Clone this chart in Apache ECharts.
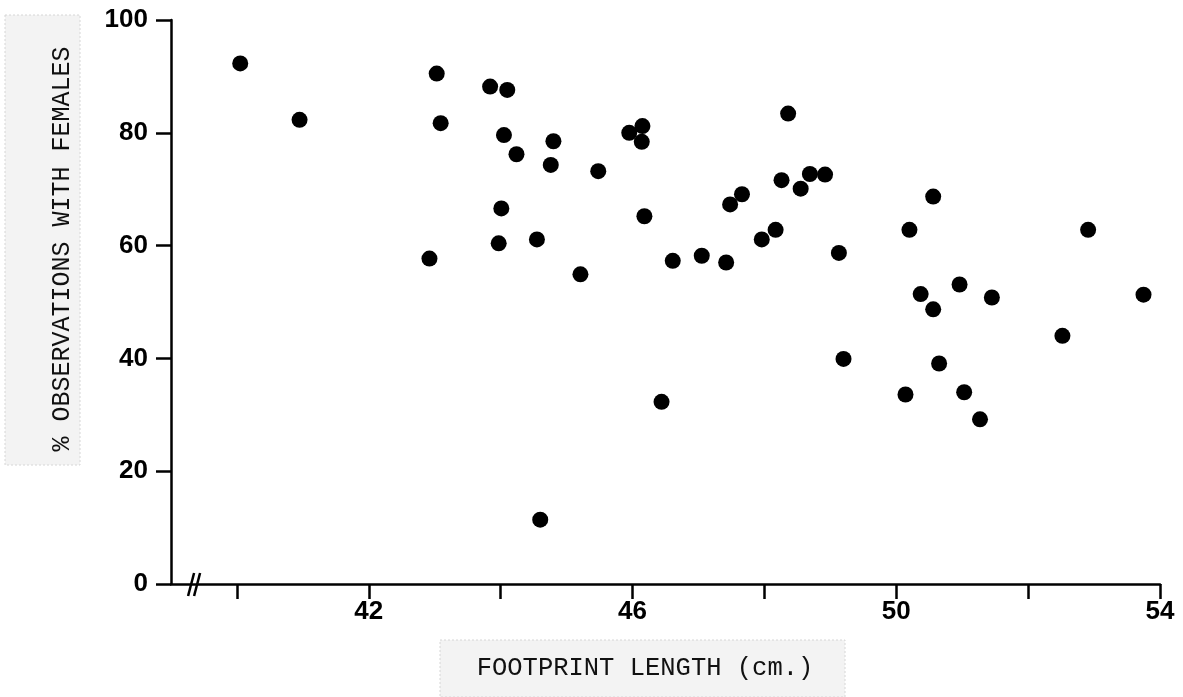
<!DOCTYPE html>
<html><head><meta charset="utf-8">
<script src="https://cdn.jsdelivr.net/npm/echarts@6/dist/echarts.min.js"></script>
<style>html,body{margin:0;padding:0;background:#fff}#c{width:1183px;height:697px}</style>
</head><body><div id="c"></div>
<script>
// Data
const footprintLength = [40.05, 40.95, 43.03, 43.84, 44.10, 43.09, 44.05, 44.24, 44.01, 43.97,
  44.55, 42.92, 44.80, 44.76, 45.48, 45.95, 46.15, 46.14, 46.18, 45.21,
  46.61, 47.05, 47.42, 47.48, 47.66, 47.96, 48.17, 48.26, 48.36, 48.55,
  48.69, 48.92, 49.13, 50.56, 50.20, 52.91, 50.96, 50.37, 50.56, 51.45,
  53.75, 52.52, 44.60, 46.44, 49.20, 50.65, 50.14, 51.03, 51.27];
const pctWithFemales = [92.3, 82.3, 90.5, 88.2, 87.6, 81.7, 79.6, 76.2, 66.6, 60.4,
  61.1, 57.7, 78.5, 74.3, 73.2, 80.0, 81.2, 78.4, 65.2, 54.9,
  57.3, 58.2, 57.0, 67.3, 69.1, 61.1, 62.8, 71.6, 83.4, 70.1,
  72.7, 72.6, 58.7, 68.7, 62.8, 62.8, 53.1, 51.4, 48.7, 50.8,
  51.3, 44.0, 11.4, 32.3, 39.9, 39.1, 33.6, 34.0, 29.2];
const xTickValues = [40, 42, 44, 46, 48, 50, 52, 54];
const xLabelValues = [42, 46, 50, 54];
const yTickValues = [0, 20, 40, 60, 80, 100];
const xTitle = 'FOOTPRINT LENGTH (cm.)';
const yTitle = '% OBSERVATIONS WITH FEMALES';

const points = footprintLength.map((x, i) => [x, pctWithFemales[i]]);
const chart = echarts.init(document.getElementById('c'), null, {renderer: 'canvas'});
const axisColor = '#000';
const tickFont = {color: '#000', fontFamily: 'Liberation Sans, Arial, sans-serif', fontWeight: 'bold', fontSize: 26};

chart.setOption({
  animation: false,
  backgroundColor: '#fff',
  grid: {left: 171, right: 23, top: 20, bottom: 113},
  xAxis: {
    type: 'value', min: 39, max: 54,
    axisLine: {show: true, onZero: false, lineStyle: {color: axisColor, width: 2.5}},
    axisTick: {show: true, customValues: xTickValues, length: 15, lineStyle: {color: axisColor, width: 2.5}},
    axisLabel: Object.assign({show: true, customValues: xLabelValues, margin: 15}, tickFont),
    splitLine: {show: false}
  },
  yAxis: {
    type: 'value', min: 0, max: 100, interval: 20,
    axisLine: {show: true, onZero: false, lineStyle: {color: axisColor, width: 2.5}},
    axisTick: {show: true, customValues: yTickValues, length: 15, lineStyle: {color: axisColor, width: 2.5}},
    axisLabel: Object.assign({show: true, customValues: yTickValues, margin: 23}, tickFont),
    splitLine: {show: false}
  },
  series: [{
    type: 'scatter',
    data: points,
    symbol: 'circle',
    symbolSize: 16,
    itemStyle: {color: '#000', opacity: 1}
  }]
});

// Decorations: title boxes, titles and the axis-break mark
const brk = chart.convertToPixel({xAxisIndex: 0, yAxisIndex: 0}, [39.35, 0]);
chart.setOption({
  graphic: [
    {type: 'rect', z: -1, shape: {x: 5, y: 15, width: 75, height: 450},
      style: {fill: '#f3f3f3', stroke: '#d6d6d6', lineWidth: 1, lineDash: [2, 2]}},
    {type: 'rect', z: -1, shape: {x: 440, y: 640, width: 405, height: 57},
      style: {fill: '#f3f3f3', stroke: '#d6d6d6', lineWidth: 1, lineDash: [2, 2]}},
    {type: 'text', x: 62, y: 249, rotation: Math.PI / 2,
      style: {text: yTitle, fill: '#111', font: '25px "Liberation Mono", "Courier New", monospace',
        textAlign: 'center', textVerticalAlign: 'middle'}},
    {type: 'text', x: 645, y: 668,
      style: {text: xTitle, fill: '#111', font: '25.5px "Liberation Mono", "Courier New", monospace',
        textAlign: 'center', textVerticalAlign: 'middle'}},
    {type: 'line', shape: {x1: brk[0] - 6, y1: brk[1] + 12, x2: brk[0], y2: brk[1] - 11},
      style: {stroke: axisColor, lineWidth: 2.5}},
    {type: 'line', shape: {x1: brk[0], y1: brk[1] + 12, x2: brk[0] + 6, y2: brk[1] - 11},
      style: {stroke: axisColor, lineWidth: 2.5}}
  ]
});
</script>
</body></html>
